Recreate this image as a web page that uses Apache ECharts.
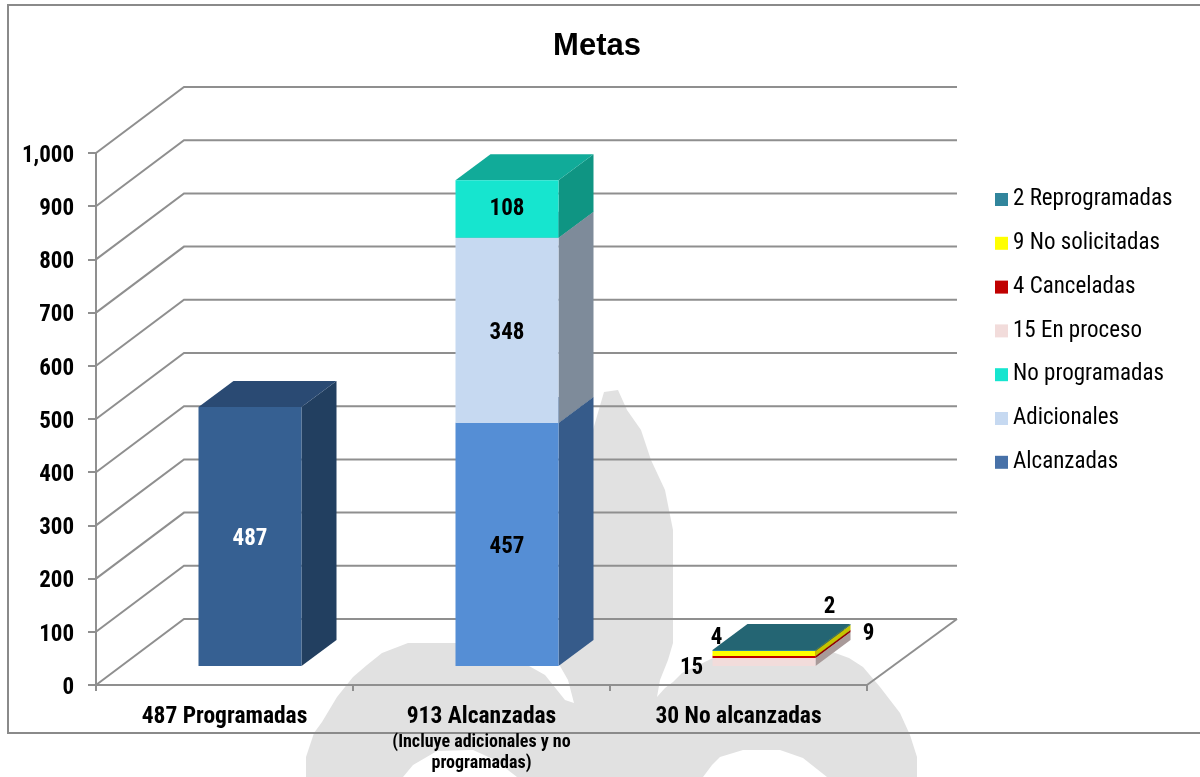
<!DOCTYPE html>
<html>
<head>
<meta charset="utf-8">
<style>html,body{margin:0;padding:0;background:#fff}#chart{width:1200px;height:777px}</style>
<script src="https://cdn.jsdelivr.net/npm/echarts@6/dist/echarts.min.js"></script>
</head>
<body>
<div id="chart"></div>
<script>
const titleText = 'Metas';
const categories = ['487 Programadas', '913 Alcanzadas', '30 No alcanzadas'];
const categoryNote = ['', '(Incluye adicionales y no\nprogramadas)', ''];
const yTicks = [0, 100, 200, 300, 400, 500, 600, 700, 800, 900, 1000];

const alcanzadas    = [487, 457, null];
const adicionales   = [null, 348, null];
const noProgramadas = [null, 108, null];
const enProceso     = [null, null, 15];
const canceladas    = [null, null, 4];
const noSolicitadas = [null, null, 9];
const reprogramadas = [null, null, 2];

const legendOrder = ['2 Reprogramadas', '9 No solicitadas', '4 Canceladas', '15 En proceso', 'No programadas', 'Adicionales', 'Alcanzadas'];

// 3D projection of the chart box (styling, not data)
const WALL_DX = 88, WALL_DY = 66;
const BAR_WIDTH = 103, BAR_IN_DX = 25.5, BAR_IN_DY = 19, BAR_DX = 35, BAR_DY = 26;
const FONT = '"Roboto Condensed","Open Sans Condensed",sans-serif';
const GRID = '#8f8f8f';

const stackDefs = [
  { name: 'Alcanzadas', values: alcanzadas, legend: '#4771a8', labelDy: 3,
    faces: [['#366092', '#223f60', '#2a4a73', '#fff'], ['#558ed5', '#365b8a', '#365b8a', '#000'], null] },
  { name: 'Adicionales', values: adicionales, legend: '#c6d9f1', labelDy: 3,
    faces: [null, ['#c6d9f1', '#7e8b9a', '#7e8b9a', '#000'], null] },
  { name: 'No programadas', values: noProgramadas, legend: '#16e5cf', labelDy: 0,
    faces: [null, ['#16e5cf', '#0f9583', '#11ab99', '#000'], null] },
  { name: '15 En proceso', values: enProceso, legend: '#f2dcdb',
    faces: [null, null, ['#f2dcdb', '#a89a99', '#a89a99', '#000']], labelAt: [-21, 2] },
  { name: '4 Canceladas', values: canceladas, legend: '#c00000',
    faces: [null, null, ['#c00000', '#8f0000', '#8f0000', '#000']], labelAt: [4, -20] },
  { name: '9 No solicitadas', values: noSolicitadas, legend: '#ffff00',
    faces: [null, null, ['#ffff00', '#c4c400', '#c4c400', '#000']], labelAt: [156, -22] },
  { name: '2 Reprogramadas', values: reprogramadas, legend: '#31859c',
    faces: [null, null, ['#31859c', '#246573', '#246573', '#000']], labelAt: [117, -44] }
];

const totals = categories.map(() => 0);
const series = [];

// back wall, side wall and floor gridlines
series.push({
  type: 'custom',
  name: 'walls',
  silent: true,
  data: yTicks.map(v => [0, v]),
  encode: { x: 0, y: 1 },
  renderItem: function (params, api) {
    const r = params.coordSys;
    const y = api.coord([0, api.value(1)])[1];
    const children = [{
      type: 'polyline',
      shape: { points: [[r.x, y], [r.x + WALL_DX, y - WALL_DY], [r.x + r.width + WALL_DX + 2, y - WALL_DY]] },
      style: { stroke: GRID, lineWidth: 2, fill: null }
    }];
    if (api.value(1) === 0) {
      children.push({
        type: 'line',
        shape: { x1: r.x + r.width, y1: y, x2: r.x + r.width + WALL_DX + 2, y2: y - WALL_DY },
        style: { stroke: GRID, lineWidth: 2 }
      });
    }
    return { type: 'group', children };
  }
});

stackDefs.forEach(def => {
  const rows = [];
  def.values.forEach((v, i) => {
    if (v === null) return;
    rows.push([i, totals[i], totals[i] + v, v]);
    totals[i] += v;
  });
  series.push({
    type: 'custom',
    name: def.name,
    silent: true,
    itemStyle: { color: def.legend },
    data: rows,
    encode: { x: 0, y: [1, 2] },
    z: 3,
    renderItem: function (params, api) {
      const cat = api.value(0);
      const [front, side, top, labelColor] = def.faces[cat];
      const cx = api.coord([cat, 0])[0] + BAR_IN_DX;
      const y0 = api.coord([cat, api.value(1)])[1] - BAR_IN_DY;
      const y1 = api.coord([cat, api.value(2)])[1] - BAR_IN_DY;
      const xl = cx - BAR_WIDTH / 2, xr = cx + BAR_WIDTH / 2;
      const poly = (pts, fill) => ({ type: 'polygon', shape: { points: pts }, style: { fill } });
      const labelX = def.labelAt ? xl + def.labelAt[0] : cx;
      const labelY = def.labelAt ? y0 + def.labelAt[1] : (y0 + y1) / 2 + def.labelDy;
      return {
        type: 'group',
        children: [
          poly([[xr, y0], [xr + BAR_DX, y0 - BAR_DY], [xr + BAR_DX, y1 - BAR_DY], [xr, y1]], side),
          poly([[xl, y1], [xr, y1], [xr + BAR_DX, y1 - BAR_DY], [xl + BAR_DX, y1 - BAR_DY]], top),
          poly([[xl, y0], [xr, y0], [xr, y1], [xl, y1]], front),
          { type: 'text', z2: 10, style: {
              text: String(api.value(3)), x: labelX, y: labelY,
              align: 'center', verticalAlign: 'middle',
              fill: labelColor, font: 'bold 23px ' + FONT } }
        ]
      };
    }
  });
});

// faint background watermark
const watermarkOutline = [
  [306,777],[306,757],[314,733],[322,722],[337,697],[353,677],[367,665],[382,653],[408,643],[456,643],[500,650],
  [529,666],[545,675],[553,685],[565,700],[574,703],[568,680],[560,666],
  [590,440],[604,392],[618,390],[627,410],[641,430],[651,460],[665,490],[673,530],[673,643],[668,660],[660,680],[657,697],
  [665,688],[673,682],[682,673],[713,658],[740,648],[790,645],[827,650],[849,658],[863,667],[880,687],[900,713],[910,735],[917,757],[917,777],
  [827,777],[803,758],[780,750],[743,750],[720,757],[712,765],[703,777],
  [517,777],[495,760],[473,750],[437,751],[413,765],[403,777]
];

const chart = echarts.init(document.getElementById('chart'), null, { renderer: 'canvas' });
chart.setOption({
  animation: false,
  backgroundColor: '#fff',
  title: {
    text: titleText, left: 592, top: 26, textAlign: 'center',
    textStyle: { fontFamily: '"Liberation Sans",Arial,sans-serif', fontWeight: 'bold', fontSize: 31, color: '#000' }
  },
  graphic: [
    { type: 'polygon', z: -20, silent: true, shape: { points: watermarkOutline }, style: { fill: '#e1e1e1' } },
    { type: 'polyline', z: -10, silent: true, shape: { points: [[1200, 5], [8, 5], [8, 733], [1200, 733]] },
      style: { stroke: '#8a8a8a', lineWidth: 2, fill: null } }
  ],
  grid: { left: 96, top: 153, width: 771, height: 532, containLabel: false },
  legend: {
    orient: 'vertical', left: 995, top: 188, padding: 0, itemWidth: 13, itemHeight: 13, itemGap: 20.8,
    icon: 'rect', data: legendOrder, selectedMode: false,
    textStyle: { fontFamily: FONT, fontSize: 23, lineHeight: 22, color: '#000' }
  },
  xAxis: {
    type: 'category', data: categories, boundaryGap: true,
    axisLine: { show: true, lineStyle: { color: GRID, width: 2 } },
    axisTick: { show: true, length: 6, alignWithLabel: false, lineStyle: { color: GRID, width: 2 } },
    axisLabel: {
      margin: 17, interval: 0, color: '#000',
      formatter: function (name, i) {
        const note = categoryNote[i];
        return '{a|' + name + '}' + (note ? '\n' + note.split('\n').map(s => '{b|' + s + '}').join('\n') : '');
      },
      rich: {
        a: { fontFamily: FONT, fontWeight: 'bold', fontSize: 23.5, lineHeight: 30, color: '#000' },
        b: { fontFamily: FONT, fontWeight: 'bold', fontSize: 18, lineHeight: 21, color: '#000' }
      }
    }
  },
  yAxis: {
    type: 'value', min: 0, max: 1000, interval: 100,
    splitLine: { show: false },
    axisLine: { show: true, lineStyle: { color: GRID, width: 2 } },
    axisTick: { show: true, length: 8, lineStyle: { color: GRID, width: 2 } },
    axisLabel: {
      margin: 22, verticalAlign: 'top', lineHeight: 6, color: '#000', fontFamily: FONT, fontWeight: 'bold', fontSize: 23,
      formatter: v => v.toLocaleString('en-US')
    }
  },
  series
});
</script>
</body>
</html>
